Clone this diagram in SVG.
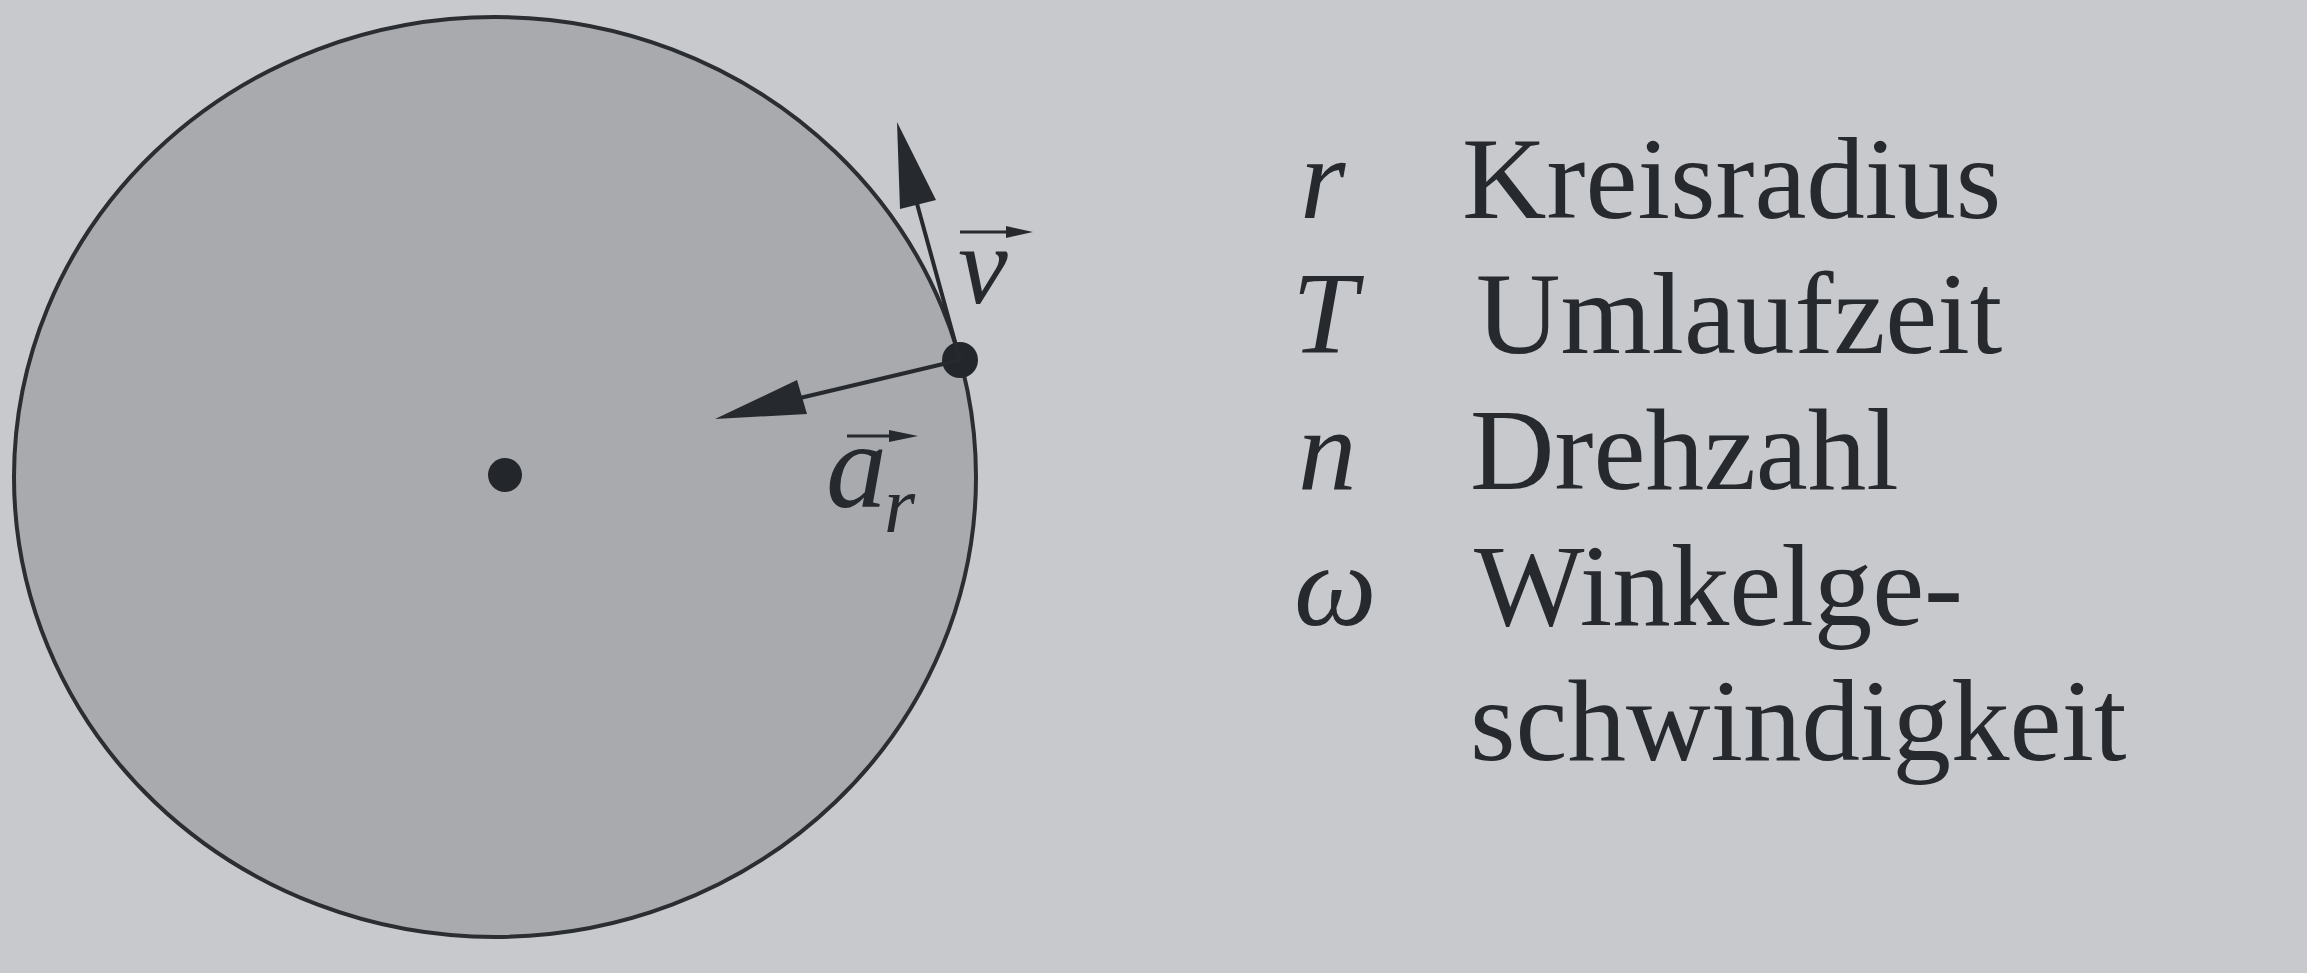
<svg xmlns="http://www.w3.org/2000/svg" width="2307" height="973" viewBox="0 0 2307 973">
  <style>
    .sym { font-family: "Liberation Serif", "Times New Roman", serif; font-style: italic; fill: #26292e; }
    .txt { font-family: "Liberation Serif", "Times New Roman", serif; font-size: 117px; fill: #26292e; }
    .ln { stroke: #26292e; fill: none; }
    .hd { fill: #26292e; stroke: none; }
  </style>
  <rect width="2307" height="973" fill="#c8c9cc"/>
  <g id="disc">
    <ellipse cx="495" cy="477" rx="481" ry="460" fill="#a8aaad" stroke="#2a2d32" stroke-width="4"/>
  </g>
  <g id="center">
    <circle cx="505" cy="475" r="17" fill="#23262b"/>
  </g>
  <g id="point">
    <circle cx="960" cy="360" r="18" fill="#23262b"/>
  </g>
  <g id="connectors">
    <line class="ln" x1="960" y1="360" x2="916" y2="200" stroke-width="4"/>
    <polygon class="hd" points="897,122 900,209 936,200"/>
    <line class="ln" x1="960" y1="360" x2="800" y2="398" stroke-width="4"/>
    <polygon class="hd" points="715,419 797,380 807,414"/>
  </g>
  <g id="label-v">
    <line class="ln" x1="960" y1="232" x2="1010" y2="232" stroke-width="3"/>
    <polygon class="hd" points="1033,232 1006,226 1006,238"/>
    <text class="sym" x="958" y="303" font-size="112">v</text>
  </g>
  <g id="label-ar">
    <line class="ln" x1="847" y1="436" x2="893" y2="436" stroke-width="3"/>
    <polygon class="hd" points="918,436 889,430 889,442"/>
    <text class="sym" x="826" y="507" font-size="122">a</text>
    <text class="sym" x="884" y="532" font-size="80">r</text>
  </g>
  <g id="legend">
    <text class="sym" x="1300" y="218" font-size="117">r</text>
    <text class="txt" x="1462" y="218">Kreisradius</text>
    <text class="sym" x="1292" y="353" font-size="117">T</text>
    <text class="txt" x="1476" y="353">Umlaufzeit</text>
    <text class="sym" x="1298" y="489" font-size="117">n</text>
    <text class="txt" x="1470" y="489">Drehzahl</text>
    <text class="sym" x="1294" y="625" font-size="117">ω</text>
    <text class="txt" x="1474" y="625">Winkelge-</text>
    <text class="txt" x="1470" y="760">schwindigkeit</text>
  </g>
</svg>
